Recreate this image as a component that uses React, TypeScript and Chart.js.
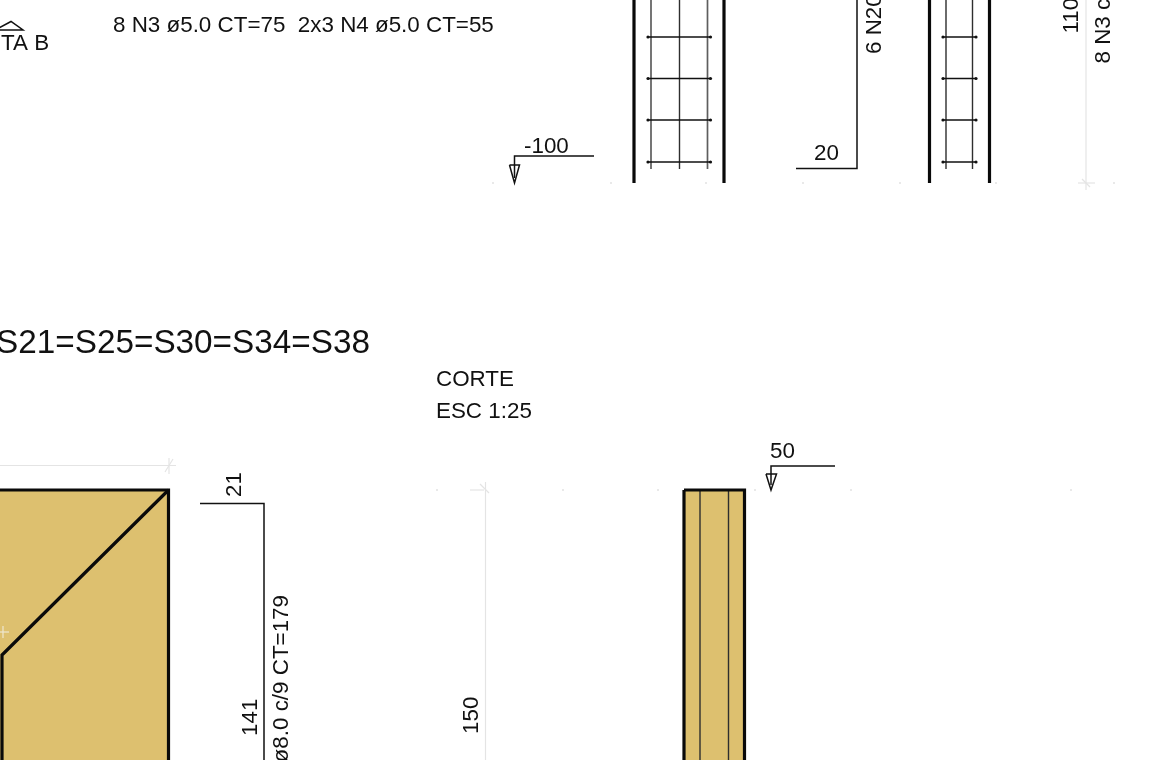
import React, { useEffect, useRef } from "react";
import { Chart, registerables } from "chart.js";

Chart.register(...registerables);

type P = [number, number];

const paperWidth = 1156;
const paperHeight = 760;
const fontFamily = '"Liberation Sans", Arial, sans-serif';

const concreteFills: P[][] = [
  [[-4, 490], [168.5, 490], [168.5, 765], [-4, 765]],
  [[684, 490], [744, 490], [744, 765], [684, 765]],
];

const heavyOutlines: P[][] = [
  [[634, -5], [634, 183]],
  [[724, -5], [724, 183]],
  [[929.5, -5], [929.5, 183]],
  [[989.5, -5], [989.5, 183]],
  [[-4, 490], [168.5, 490], [168.5, 765]],
  [[168.5, 490], [2, 655], [2, 765]],
  [[684, 490], [744.5, 490], [744.5, 765]],
  [[684, 490], [684, 765]],
];

const innerLines: P[][] = [
  [[700, 490], [700, 765]],
  [[728.5, 490], [728.5, 765]],
  [[679.5, -5], [679.5, 169]],
  [[946, -5], [946, 169]],
  [[972.5, -5], [972.5, 169]],
];

const softRebars: P[][] = [
  [[651, -5], [651, 169]],
  [[707.5, -5], [707.5, 169]],
];

const stirrupRows = [37, 78.5, 120, 162];
const stirrupSpans: P[] = [[648, 710.5], [943, 976]];

const thinLeaders: P[][] = [
  [[594, 156], [514.5, 156], [514.5, 165]],
  [[796, 168.5], [857, 168.5], [857, -5]],
  [[200, 503.5], [264, 503.5], [264, 765]],
  [[835, 466], [771, 466], [771, 474]],
  [[509.5, 165], [519.5, 165], [514.5, 183], [509.5, 165]],
  [[514.5, 165], [514.5, 178]],
  [[766, 474], [776.5, 474], [771, 490], [766, 474]],
  [[771, 474], [771, 485]],
  [[-1, 30], [23, 30], [11, 21.5], [-1, 28]],
];

const faintLines: P[][] = [
  [[1086, -5], [1086, 190]],
  [[1078, 183], [1095, 183]],
  [[1082, 179], [1090, 187]],
  [[0, 465.5], [176, 465.5]],
  [[169, 458], [169, 474]],
  [[165, 472], [173, 459]],
  [[485.5, 482], [485.5, 765]],
  [[470, 490], [484, 490]],
  [[480, 484], [489, 493]],
];

const faintTicksTop = [493, 611, 706, 803, 900, 996, 1114];
const faintTicksBottom = [437, 563, 658, 755, 851, 1071];
const crossOnConcrete: P[][] = [
  [[-2, 632], [9, 632]],
  [[3, 626], [3, 638]],
];

const labels: { text: string; x: number; y: number; size: number; rotated?: boolean; end?: boolean }[] = [
  { text: "8 N3 ø5.0 CT=75  2x3 N4 ø5.0 CT=55", x: 113, y: 32, size: 22.4 },
  { text: "TA B", x: 1, y: 49.5, size: 22.4 },
  { text: "-100", x: 524, y: 153, size: 22.4 },
  { text: "20", x: 814, y: 160, size: 22.4 },
  { text: "6 N20", x: 881, y: 54, size: 22.4, rotated: true },
  { text: "110", x: 1078, y: 33.5, size: 22.4, rotated: true },
  { text: "8 N3 c", x: 1110, y: 63.5, size: 22.4, rotated: true },
  { text: "S21=S25=S30=S34=S38", x: -4, y: 353, size: 33.3 },
  { text: "CORTE", x: 436, y: 385.5, size: 22.4 },
  { text: "ESC 1:25", x: 436, y: 417.5, size: 22.4 },
  { text: "50", x: 770, y: 458, size: 22.4 },
  { text: "21", x: 241, y: 497, size: 22.4, rotated: true },
  { text: "141", x: 257, y: 736, size: 22.4, rotated: true },
  { text: "ø8.0 c/9 CT=179", x: 288, y: 595, size: 22.4, rotated: true, end: true },
  { text: "150", x: 477.5, y: 734, size: 22.4, rotated: true },
];

const toPoints = (line: P[]) => line.map(([x, y]) => ({ x, y }));

const polyline = (line: P[], color: string, width: number) => ({
  data: toPoints(line),
  showLine: true,
  borderColor: color,
  borderWidth: width,
  pointRadius: 0,
  fill: false,
  tension: 0,
  borderJoinStyle: "miter" as const,
  borderCapStyle: "butt" as const,
});

const labelPlugin = {
  id: "drawingLabels",
  afterDatasetsDraw(chart: any) {
    const { ctx, scales } = chart;
    ctx.save();
    ctx.fillStyle = "#111111";
    ctx.textBaseline = "alphabetic";
    for (const l of labels) {
      ctx.save();
      ctx.font = `${l.size}px ${fontFamily}`;
      ctx.translate(scales.x.getPixelForValue(l.x), scales.y.getPixelForValue(l.y));
      if (l.rotated) ctx.rotate(-Math.PI / 2);
      ctx.textAlign = l.end ? "right" : "left";
      ctx.fillText(l.text, 0, 0);
      ctx.restore();
    }
    ctx.restore();
  },
};

export default function App() {
  const ref = useRef<HTMLCanvasElement>(null);
  useEffect(() => {
    document.body.style.margin = "0";
    document.body.style.background = "#ffffff";
    const stirrups = stirrupSpans.flatMap(([a, b]) =>
      stirrupRows.map((y) => ({
        ...polyline([[a, y], [b, y]], "#111111", 1.6),
        pointRadius: 1.6,
        pointBackgroundColor: "#111111",
        pointBorderWidth: 0,
      }))
    );
    const tickDots = (xs: number[], y: number) => ({
      data: xs.map((x) => ({ x, y })),
      showLine: false,
      pointRadius: 1,
      pointBackgroundColor: "#e2e2e2",
      pointBorderWidth: 0,
    });
    // Chart.js paints the first dataset last, so the list runs from top layer to bottom layer.
    const chart = new Chart(ref.current!, {
      type: "scatter",
      data: {
        datasets: [
          ...heavyOutlines.map((l) => polyline(l, "#0a0a0a", 3.2)),
          ...thinLeaders.map((l) => polyline(l, "#111111", 1.5)),
          ...stirrups,
          ...innerLines.map((l) => polyline(l, "#2e2e2e", 1.4)),
          ...softRebars.map((l) => polyline(l, "#5e5e5e", 1.7)),
          ...crossOnConcrete.map((l) => polyline(l, "#eee6cf", 1.2)),
          tickDots(faintTicksBottom, 490),
          tickDots(faintTicksTop, 183),
          ...faintLines.map((l) => polyline(l, "#e4e4e4", 1.2)),
          ...concreteFills.map((shape) => ({
            data: toPoints(shape),
            showLine: true,
            borderWidth: 0,
            borderColor: "#DDC06F",
            backgroundColor: "#DDC06F",
            pointRadius: 0,
            fill: "shape",
            tension: 0,
          })),
        ] as any,
      },
      options: {
        responsive: false,
        animation: false,
        devicePixelRatio: 1,
        layout: { padding: 0, autoPadding: false },
        plugins: { legend: { display: false }, tooltip: { enabled: false }, title: { display: false } },
        scales: {
          x: { type: "linear", display: false, min: 0, max: paperWidth },
          y: { type: "linear", display: false, min: 0, max: paperHeight, reverse: true },
        },
      },
      plugins: [labelPlugin],
    });
    return () => chart.destroy();
  }, []);
  return (
    <div style={{ position: "fixed", left: 0, top: 0, width: paperWidth, height: paperHeight, overflow: "hidden" }}>
      <canvas ref={ref} width={paperWidth} height={paperHeight} style={{ display: "block" }} />
    </div>
  );
}
